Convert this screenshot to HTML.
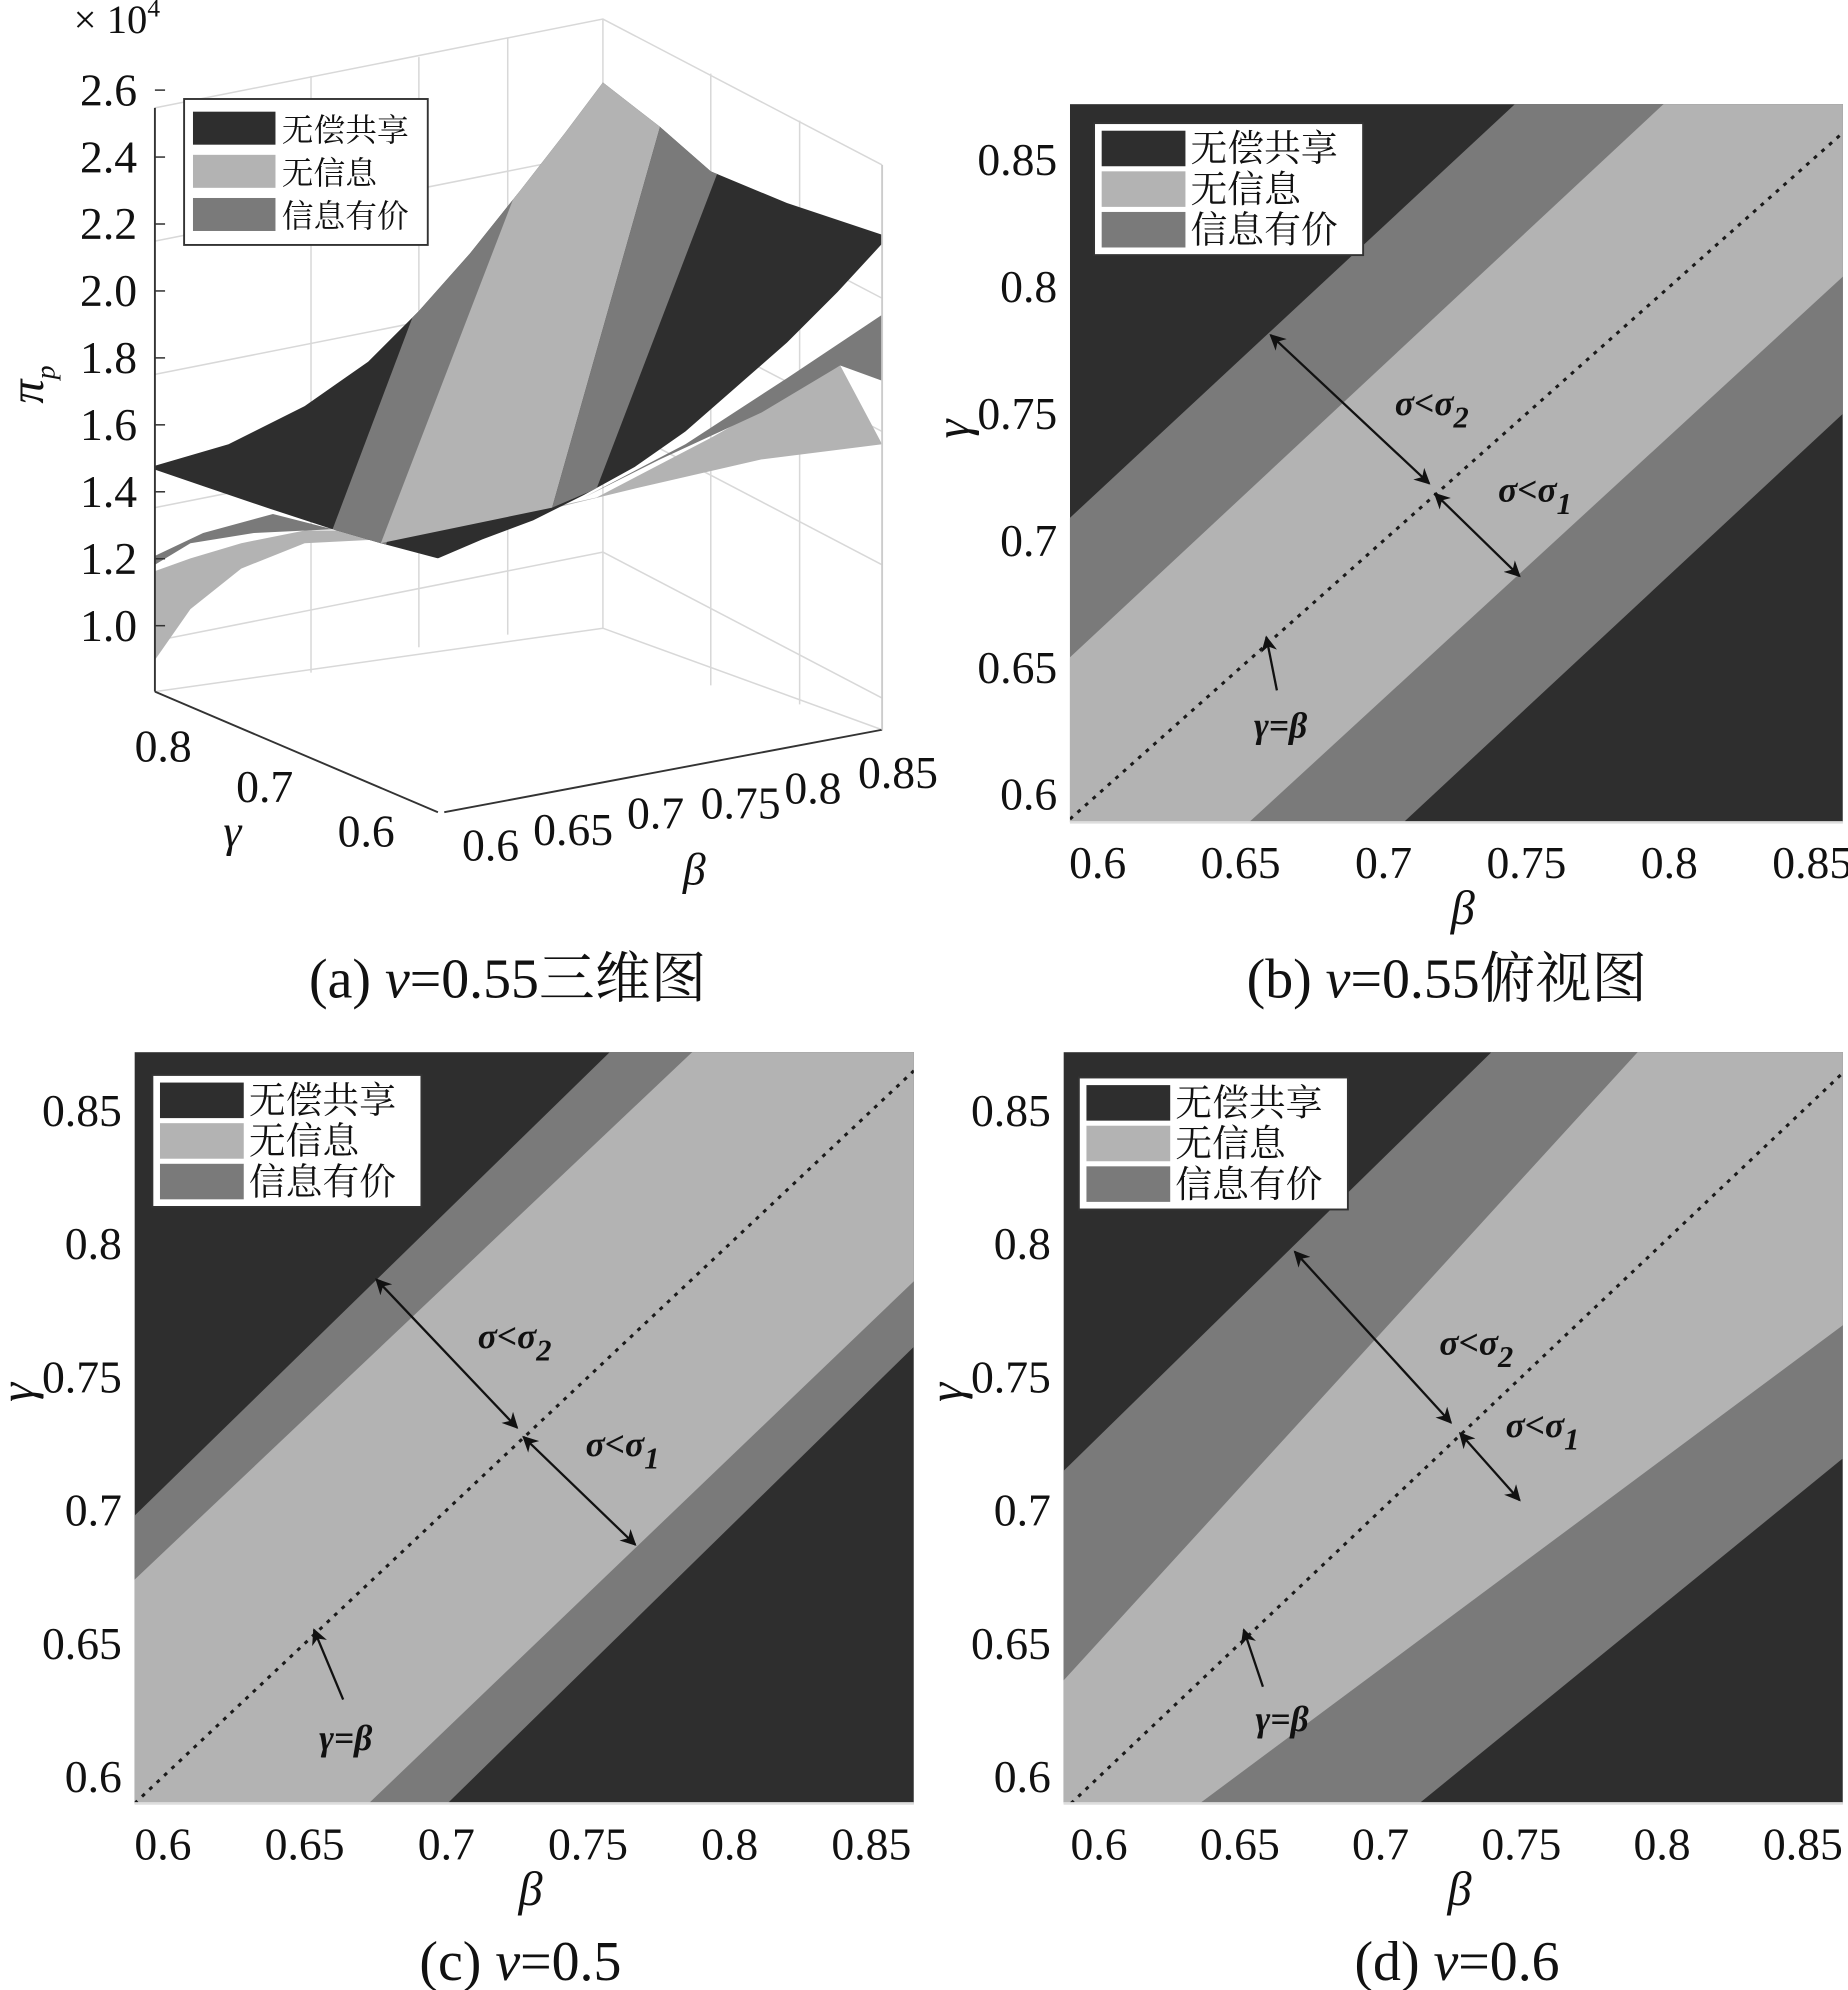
<!DOCTYPE html>
<html><head><meta charset="utf-8"><style>
html,body{margin:0;padding:0;background:#fff;overflow:hidden}
svg{display:block}
text{font-family:"Liberation Serif","DejaVu Serif","Noto Serif CJK SC",serif;fill:#111}
.cjk{font-family:"Liberation Serif","Noto Serif CJK SC","Noto Sans CJK SC",serif}
</style></head><body>
<svg id="fig" width="1848" height="1990" viewBox="0 0 1456 1568" xmlns="http://www.w3.org/2000/svg" font-family="Liberation Serif, DejaVu Serif, serif">
<defs>
<marker id="ah" viewBox="0 0 10 10" refX="9" refY="5" markerWidth="7" markerHeight="7" orient="auto-start-reverse"><path d="M0,0 L10,5 L0,10 L3,5 z" fill="#111"/></marker>
</defs>

<!-- Panel (a) 3D -->
<g id="panel-a">
  <g stroke="#d8d8d8" stroke-width="1.2" fill="none">
    <polyline points="122,85 475,15 695,130"/>
    <line x1="475" y1="15" x2="475" y2="495"/>
    <line x1="245" y1="60" x2="245" y2="530"/>
    <line x1="330" y1="45" x2="330" y2="510"/>
    <line x1="400" y1="30" x2="400" y2="500"/>
    <line x1="560" y1="58" x2="560" y2="540"/>
    <line x1="630" y1="95" x2="630" y2="555"/>
    <line x1="122" y1="190" x2="475" y2="120"/><line x1="475" y1="120" x2="695" y2="235"/>
    <line x1="122" y1="295" x2="475" y2="225"/><line x1="475" y1="225" x2="695" y2="340"/>
    <line x1="122" y1="400" x2="475" y2="330"/><line x1="475" y1="330" x2="695" y2="445"/>
    <line x1="122" y1="505" x2="475" y2="435"/><line x1="475" y1="435" x2="695" y2="550"/>
    <polyline points="122,545 475,495 695,575"/>
  </g>
  <polygon points="122,520 150,480 190,448 240,428 300,425 350,420 430,402 500,385 600,362 695,350 662,288 560,345 470,392 380,412 300,418 240,418 190,428 150,440 122,450" fill="#b3b3b3"/>
  <polygon points="122,438 160,420 215,405 262,417 200,420 150,428 122,445" fill="#7a7a7a"/>
  <polygon points="695,248 695,300 662,288 600,325 520,362 460,392 540,350 620,298" fill="#7a7a7a"/>
  <clipPath id="upperClip"><polygon points="122,367 180,350 240,320 290,285 330,245 370,200 410,150 445,105 475,65 520,100 560,135 620,160 695,185 695,192 660,230 620,270 580,305 540,340 500,368 460,390 420,410 380,425 345,440 300,428 262,417 210,400 160,383 122,370"/></clipPath>
  <g clip-path="url(#upperClip)">
    <rect x="100" y="40" width="620" height="420" fill="#2e2e2e"/>
    <polygon points="325,250 262,417 300,440 420,120" fill="#7a7a7a"/>
    <polygon points="405,155 300,428 435,400 520,100 470,40" fill="#b3b3b3"/>
    <polygon points="520,100 435,400 470,385 565,137" fill="#7a7a7a"/>
  </g>
  <g stroke="#333" stroke-width="1.5" fill="none">
    <line x1="122" y1="85" x2="122" y2="545"/>
    <line x1="122" y1="545" x2="345" y2="640"/>
    <line x1="350" y1="640" x2="695" y2="575"/>
    <line x1="695" y1="130" x2="695" y2="575" stroke="#ccc"/>
  </g>
  <g id="zticks"></g>
  <text x="58" y="26" font-size="32">× 10<tspan font-size="20" dy="-13">4</tspan></text>
  <text x="0" y="0" font-size="38" font-style="italic" transform="translate(34,318) rotate(-90)">π<tspan font-size="22" dy="9">p</tspan></text>
  <g font-size="36">
    <text x="106" y="600">0.8</text><text x="186" y="632">0.7</text><text x="266" y="667">0.6</text>
    <text x="176" y="667" font-style="italic">γ</text>
  </g>
  <g font-size="36">
    <text x="364" y="678">0.6</text><text x="420" y="666">0.65</text><text x="494" y="653">0.7</text><text x="552" y="645">0.75</text><text x="618" y="633">0.8</text><text x="676" y="621">0.85</text>
    <text x="538" y="697" font-style="italic">β</text>
  </g>
  <g>
    <rect x="145" y="78" width="192" height="115" fill="#fff" stroke="#333" stroke-width="1.5"/>
    <rect x="152" y="88" width="65" height="26" fill="#2e2e2e"/>
    <rect x="152" y="122" width="65" height="26" fill="#b3b3b3"/>
    <rect x="152" y="156" width="65" height="26" fill="#7a7a7a"/>
    <text class="cjk" x="222" y="111" font-size="25">无偿共享</text>
    <text class="cjk" x="222" y="145" font-size="25">无信息</text>
    <text class="cjk" x="222" y="179" font-size="25">信息有价</text>
  </g>
  <text class="cjk" x="400" y="786" font-size="44" text-anchor="middle">(a) <tspan font-style="italic">v</tspan>=0.55三维图</text>
</g>

<g id="panel-b"></g>
<g id="panel-c"></g>
<g id="panel-d"></g>
</svg>

<script>
const NS = "http://www.w3.org/2000/svg";
// ---- panel (a) z ticks
const zTicks = [1.0, 1.2, 1.4, 1.6, 1.8, 2.0, 2.2, 2.4, 2.6];
const zTickLabels = ["1.0","1.2","1.4","1.6","1.8","2.0","2.2","2.4","2.6"];

// ---- 2D panels data
const xTicks = [0.6, 0.65, 0.7, 0.75, 0.8, 0.85];
const xTickLabels = ["0.6","0.65","0.7","0.75","0.8","0.85"];
const yTicks = [0.6, 0.65, 0.7, 0.75, 0.8, 0.85];
const yTickLabels = ["0.6","0.65","0.7","0.75","0.8","0.85"];

// boundaries: [beta1, gamma1, beta2, gamma2]; order: dark|med upper, med|light upper, light|med lower, med|dark lower
const bBoundaries = [[0.5903,0.709,0.746,0.872],[0.5903,0.654,0.798,0.872],[0.6529,0.589,0.8607,0.804],[0.707,0.589,0.8607,0.75]];
const cBoundaries = [[0.590,0.698,0.7577,0.872],[0.590,0.674,0.7868,0.872],[0.6726,0.590,0.865,0.786],[0.7004,0.590,0.865,0.7614]];
const dBoundaries = [[0.5874,0.7148,0.7394,0.872],[0.5874,0.6362,0.7913,0.872],[0.6357,0.590,0.8642,0.7695],[0.7137,0.590,0.8642,0.7195]];

// annotation arrows [b1,g1,b2,g2]
const bArrows = [[0.6605,0.781,0.716,0.7225],[0.718,0.7185,0.7476,0.686]];
const cArrows = [[0.6753,0.7867,0.725,0.731],[0.7272,0.7276,0.7667,0.6871]];
const dArrows = [[0.6695,0.7971,0.725,0.7329],[0.7282,0.729,0.7494,0.7038]];
// labels [beta, gamma] centers: sigma2, sigma1
const bLabels = [[0.7169,0.7535],[0.753,0.7195]];
const cLabels = [[0.7241,0.7648],[0.7622,0.7243]];
const dLabels = [[0.734,0.7624],[0.7575,0.7314]];
// gamma=beta pointer: [tipB, tipG, tailB, tailG, textB, textG]
const bPointer = [0.659,0.662,0.6627,0.641,0.664,0.6325];
const cPointer = [0.6533,0.6552,0.6636,0.629,0.6645,0.6195];
const dPointer = [0.6514,0.6552,0.6582,0.6338,0.665,0.6267];

function mk(tag, attrs, parent){const e=document.createElementNS(NS,tag);for(const k in attrs)e.setAttribute(k,attrs[k]);if(parent)parent.appendChild(e);return e;}

// z ticks
(function(){
  const g=document.getElementById('zticks');
  const zY=v=>493-(v-1.0)/0.2*52.75;
  zTicks.forEach((v,i)=>{
    const t=mk('text',{x:108,y:zY(v)+12,'font-size':36,'text-anchor':'end'},g);
    
    
    t.textContent=zTickLabels[i];
    const l=mk('line',{x1:122,y1:zY(v),x2:130,y2:zY(v),stroke:'#333','stroke-width':1.2},g);
    
    
  });
})();

function drawPanel(id, cfg, bounds, arrows, labels, pointer){
  const g=document.getElementById(id);
  const [L,T,R,B]=cfg.rect;
  const [x0,x1]=cfg.xd, [y0,y1]=cfg.yd;
  const X=v=>L+(v-x0)/(x1-x0)*(R-L);
  const Y=v=>B-(v-y0)/(y1-y0)*(B-T);
  const cid='clip-'+id;
  const cp=mk('clipPath',{id:cid},g); mk('rect',{x:L,y:T,width:R-L,height:B-T},cp);
  const pg=mk('g',{'clip-path':'url(#'+cid+')'},g);
  const bg=mk('rect',{x:L,y:T,width:R-L,height:B-T,fill:'#2e2e2e'},pg);
  
  
  const ext=(s,t)=>{const b=s[0]+t*(s[2]-s[0]),gm=s[1]+t*(s[3]-s[1]);return X(b).toFixed(1)+','+Y(gm).toFixed(1);};
  const band=(a,b,fill,name)=>{
    const p=mk('polygon',{points:[ext(a,-3),ext(a,4),ext(b,4),ext(b,-3)].join(' '),fill:fill},pg);
    
    
  };
  band(bounds[0],bounds[3],'#7a7a7a','region-paid-information');
  band(bounds[1],bounds[2],'#b3b3b3','region-no-information');
  const lo=Math.max(x0,y0), hi=Math.min(x1,y1);
  const dl=mk('line',{x1:X(lo),y1:Y(lo),x2:X(hi),y2:Y(hi),stroke:'#1a1a1a','stroke-width':2.4,'stroke-dasharray':'3,5'},pg);
  
  
  mk('line',{x1:L,y1:B,x2:R,y2:B,stroke:'#ddd','stroke-width':2},g);
  arrows.forEach(a=>{
    const l=mk('line',{x1:X(a[0]),y1:Y(a[1]),x2:X(a[2]),y2:Y(a[3]),stroke:'#111','stroke-width':1.8,'marker-start':'url(#ah)','marker-end':'url(#ah)'},g);
    
    
  });
  const subs=['2','1'];
  labels.forEach((p,i)=>{
    const t=mk('text',{x:X(p[0]),y:Y(p[1])+8,'font-size':28,'font-weight':'bold','font-style':'italic','text-anchor':'middle'},g);
    
    
    t.innerHTML='σ&lt;σ<tspan font-size="24" dy="10">'+subs[i]+'</tspan>';
  });
  const pl=mk('line',{x1:X(pointer[2]),y1:Y(pointer[3]),x2:X(pointer[0]),y2:Y(pointer[1]),stroke:'#111','stroke-width':1.8,'marker-end':'url(#ah)'},g);
  
  
  const pt=mk('text',{x:X(pointer[4]),y:Y(pointer[5])+20,'font-size':28,'font-weight':'bold','font-style':'italic','text-anchor':'middle'},g);
  
  
  pt.textContent='γ=β';
  xTicks.forEach((v,i)=>{
    const t=mk('text',{x:X(v),y:B+44,'font-size':36,'text-anchor':'middle'},g);
    
    
    t.textContent=xTickLabels[i];
  });
  yTicks.forEach((v,i)=>{
    const t=mk('text',{x:L-10,y:Y(v)+12,'font-size':36,'text-anchor':'end'},g);
    
    
    t.textContent=yTickLabels[i];
  });
  const xt=mk('text',{x:(L+R)/2+5,y:B+80,'font-size':38,'font-style':'italic','text-anchor':'middle'},g);
  
  
  xt.textContent='β';
  const yt=mk('text',{x:0,y:0,'font-size':38,'font-style':'italic','text-anchor':'middle',transform:'translate('+(L-80)+','+(Y(0.75)+12)+') rotate(-90)'},g);
  
  
  yt.textContent='γ';
  const [lx,ly]=cfg.legend;
  const lg=mk('g',{},g);
  
  
  mk('rect',{x:lx,y:ly,width:212,height:104,fill:'#fff',stroke:'#333','stroke-width':1.5},lg);
  const names=['无偿共享','无信息','信息有价'], cols=['#2e2e2e','#b3b3b3','#7a7a7a'];
  names.forEach((n,i)=>{
    const r=mk('rect',{x:lx+6,y:ly+6+i*32,width:66,height:28,fill:cols[i]},lg);
    
    
    const t=mk('text',{x:lx+76,y:ly+30+i*32,'font-size':29,'class':'cjk'},lg);
    
    
    t.textContent=n;
  });
  const cap=mk('text',{x:cfg.cap[0],y:cfg.cap[1],'font-size':44,'text-anchor':'middle','class':'cjk'},g);
  
  
  cap.innerHTML=cfg.capText;
}

drawPanel('panel-b',{rect:[843,82,1452,648],xd:[0.5903,0.8607],yd:[0.589,0.872],legend:[862,97],cap:[1140,786],capText:'(b) <tspan font-style="italic">v</tspan>=0.55俯视图'},bBoundaries,bArrows,bLabels,bPointer);
drawPanel('panel-c',{rect:[106,829,720,1421],xd:[0.590,0.865],yd:[0.590,0.872],legend:[120,847],cap:[410,1560],capText:'(c) <tspan font-style="italic">v</tspan>=0.5'},cBoundaries,cArrows,cLabels,cPointer);
drawPanel('panel-d',{rect:[838,829,1452,1421],xd:[0.5874,0.8642],yd:[0.590,0.872],legend:[850,849],cap:[1148,1560],capText:'(d) <tspan font-style="italic">v</tspan>=0.6'},dBoundaries,dArrows,dLabels,dPointer);
</script>
</body></html>
